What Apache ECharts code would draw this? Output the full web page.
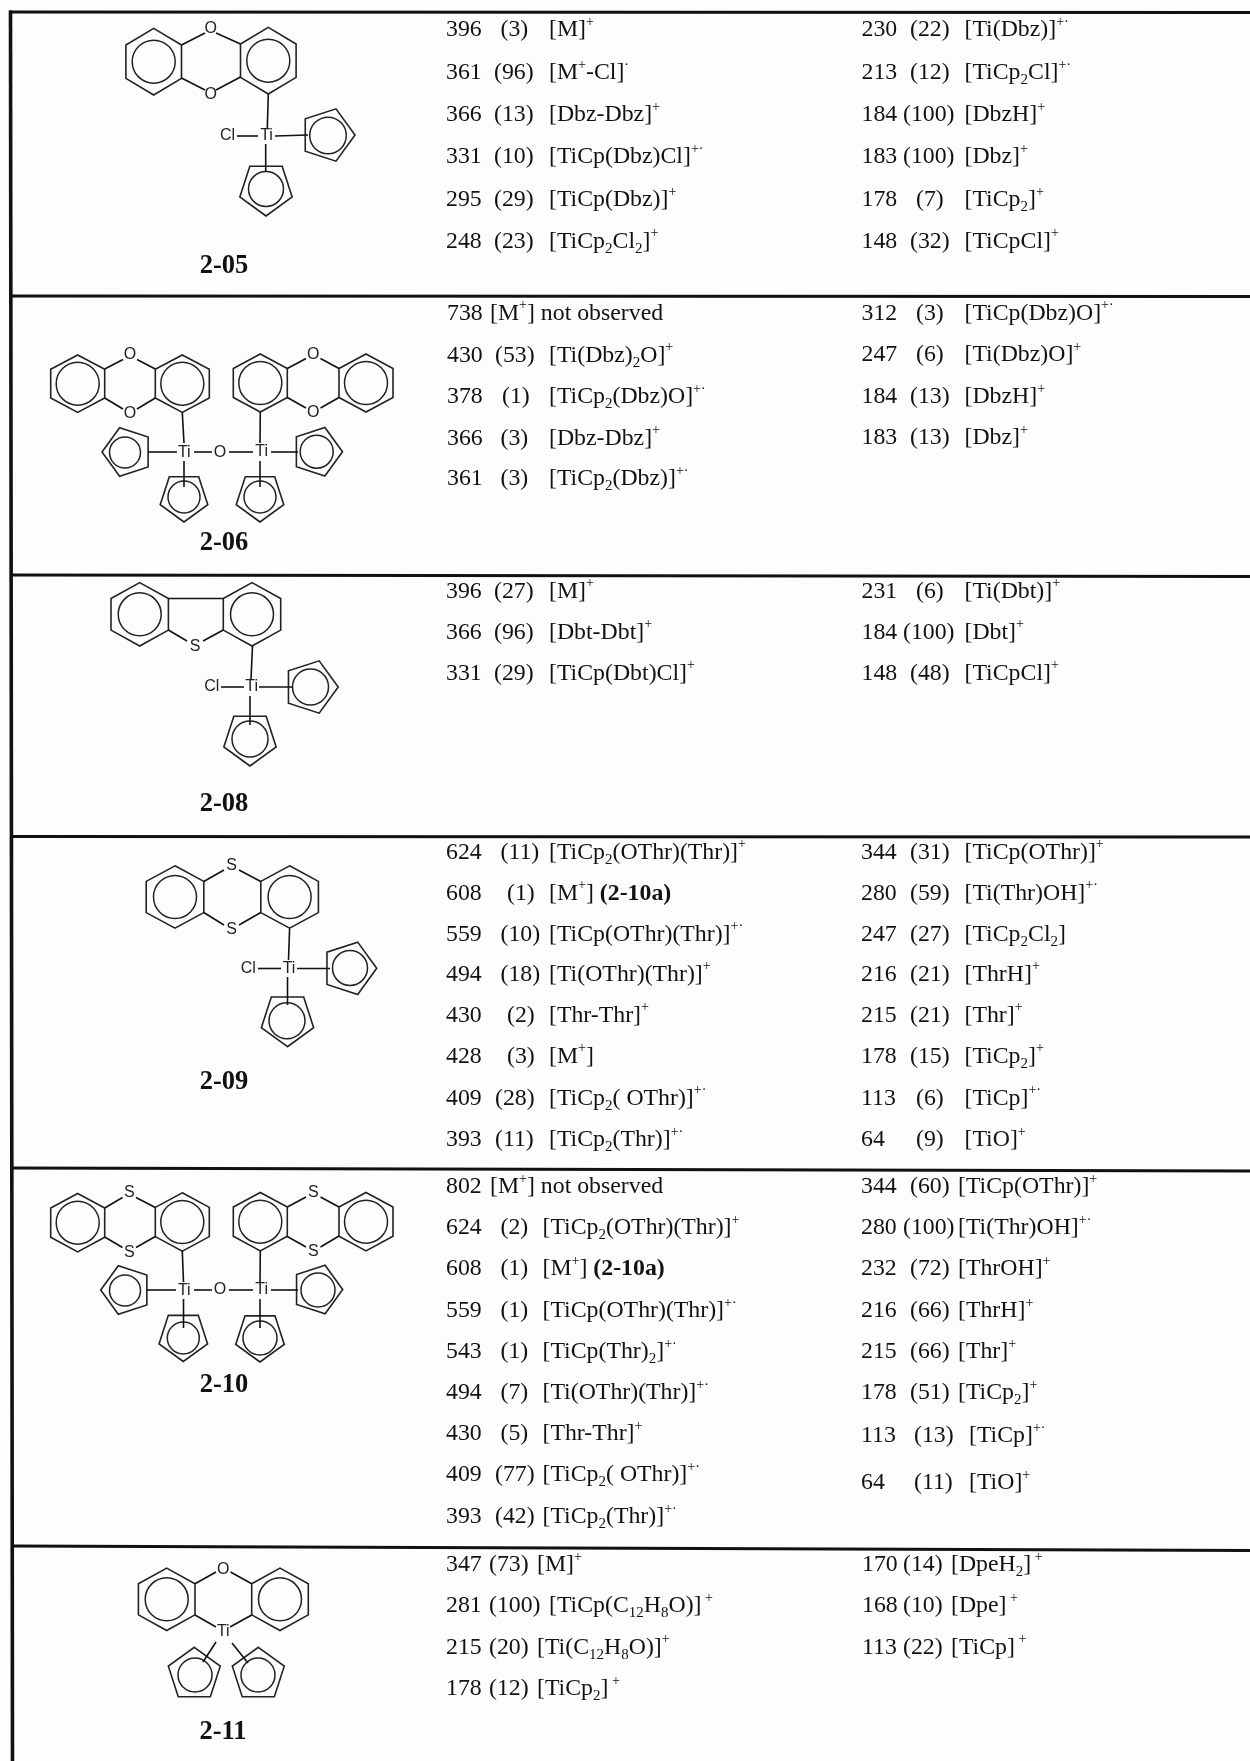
<!DOCTYPE html>
<html>
<head>
<meta charset="utf-8">
<script src="https://cdn.jsdelivr.net/npm/echarts@6/dist/echarts.min.js"></script>
<style>html,body{margin:0;padding:0;background:#fdfdfd}#main{width:1250px;height:1761px;filter:blur(0.45px)}</style>
</head>
<body>
<div id="main"></div>
<script>
// mass, (intensity), ion -- {u|..} is a superscript, {s|..} a subscript, {b|..} bold
var compounds = ['2-05', '2-06', '2-08', '2-09', '2-10', '2-11'];

var ions05a = [['396','(3)','[M]{u|+}'], ['361','(96)','[M{u|+}-Cl]{u|·}'], ['366','(13)','[Dbz-Dbz]{u|+}'], ['331','(10)','[TiCp(Dbz)Cl]{u|+·}'], ['295','(29)','[TiCp(Dbz)]{u|+}'], ['248','(23)','[TiCp{s|2}Cl{s|2}]{u|+}']];
var ions05b = [['230','(22)','[Ti(Dbz)]{u|+·}'], ['213','(12)','[TiCp{s|2}Cl]{u|+·}'], ['184','(100)','[DbzH]{u|+}'], ['183','(100)','[Dbz]{u|+}'], ['178','(7)','[TiCp{s|2}]{u|+}'], ['148','(32)','[TiCpCl]{u|+}']];
var ions06a = [['738','','[M{u|+}] not observed'], ['430','(53)','[Ti(Dbz){s|2}O]{u|+}'], ['378','(1)','[TiCp{s|2}(Dbz)O]{u|+·}'], ['366','(3)','[Dbz-Dbz]{u|+}'], ['361','(3)','[TiCp{s|2}(Dbz)]{u|+·}']];
var ions06b = [['312','(3)','[TiCp(Dbz)O]{u|+·}'], ['247','(6)','[Ti(Dbz)O]{u|+}'], ['184','(13)','[DbzH]{u|+}'], ['183','(13)','[Dbz]{u|+}']];
var ions08a = [['396','(27)','[M]{u|+}'], ['366','(96)','[Dbt-Dbt]{u|+}'], ['331','(29)','[TiCp(Dbt)Cl]{u|+}']];
var ions08b = [['231','(6)','[Ti(Dbt)]{u|+}'], ['184','(100)','[Dbt]{u|+}'], ['148','(48)','[TiCpCl]{u|+}']];
var ions09a = [['624','(11)','[TiCp{s|2}(OThr)(Thr)]{u|+}'], ['608','(1)','[M{u|+}] {b|(2-10a)}'], ['559','(10)','[TiCp(OThr)(Thr)]{u|+·}'], ['494','(18)','[Ti(OThr)(Thr)]{u|+}'], ['430','(2)','[Thr-Thr]{u|+}'], ['428','(3)','[M{u|+}]'], ['409','(28)','[TiCp{s|2}( OThr)]{u|+·}'], ['393','(11)','[TiCp{s|2}(Thr)]{u|+·}']];
var ions09b = [['344','(31)','[TiCp(OThr)]{u|+}'], ['280','(59)','[Ti(Thr)OH]{u|+·}'], ['247','(27)','[TiCp{s|2}Cl{s|2}]'], ['216','(21)','[ThrH]{u|+}'], ['215','(21)','[Thr]{u|+}'], ['178','(15)','[TiCp{s|2}]{u|+}'], ['113','(6)','[TiCp]{u|+·}'], ['64','(9)','[TiO]{u|+}']];
var ions10a = [['802','','[M{u|+}] not observed'], ['624','(2)','[TiCp{s|2}(OThr)(Thr)]{u|+}'], ['608','(1)','[M{u|+}] {b|(2-10a)}'], ['559','(1)','[TiCp(OThr)(Thr)]{u|+·}'], ['543','(1)','[TiCp(Thr){s|2}]{u|+·}'], ['494','(7)','[Ti(OThr)(Thr)]{u|+·}'], ['430','(5)','[Thr-Thr]{u|+}'], ['409','(77)','[TiCp{s|2}( OThr)]{u|+·}'], ['393','(42)','[TiCp{s|2}(Thr)]{u|+·}']];
var ions10b = [['344','(60)','[TiCp(OThr)]{u|+}'], ['280','(100)','[Ti(Thr)OH]{u|+·}'], ['232','(72)','[ThrOH]{u|+}'], ['216','(66)','[ThrH]{u|+}'], ['215','(66)','[Thr]{u|+}'], ['178','(51)','[TiCp{s|2}]{u|+}'], ['113','(13)','[TiCp]{u|+·}'], ['64','(11)','[TiO]{u|+}']];
var ions11a = [['347','(73)','[M]{u|+}'], ['281','(100)','[TiCp(C{s|12}H{s|8}O)]{u| +}'], ['215','(20)','[Ti(C{s|12}H{s|8}O)]{u|+}'], ['178','(12)','[TiCp{s|2}]{u| +}']];
var ions11b = [['170','(14)','[DpeH{s|2}]{u| +}'], ['168','(10)','[Dpe]{u| +}'], ['113','(22)','[TiCp]{u| +}']];

// ---- layout of the table, in page pixels (the hidden axes map them 1:1) ----
var columns = [
  {rows: ions05a, y: [30,73,115,157,200,241.5], num: 446, paren: [500.5,494,494,494,494,494], ion: 549},
  {rows: ions05b, y: [30,73,115,157,200,241.5], num: 861.5, paren: [910,910,903,903,916,910], ion: 964.5},
  {rows: ions06a, y: [313.5,355.5,397,438.5,479], num: 447, paren: [0,495,502,500.5,500.5], ion: [490,549,549,549,549]},
  {rows: ions06b, y: [313.5,355,397,438], num: 861.5, paren: [916,916,910,910], ion: 964.5},
  {rows: ions08a, y: [591.5,632.5,673.5], num: 446, paren: [494,494,494], ion: 549},
  {rows: ions08b, y: [591.5,632.5,673.5], num: 861.5, paren: [916,903,910], ion: 964.5},
  {rows: ions09a, y: [852.5,893.5,934.5,974.5,1015.5,1056.5,1098.5,1140], num: 446, paren: [500.5,507,500.5,500.5,507,507,495,495], ion: 549},
  {rows: ions09b, y: [852.5,893.5,934.5,974.5,1015.5,1056.5,1098.5,1140], num: 861, paren: [910,910,910,910,910,910,916,916], ion: 964.5},
  {rows: ions10a, y: [1187,1228,1269,1311,1352,1393,1434,1475,1517], num: 446, paren: [0,500.5,500.5,500.5,500.5,500.5,500.5,495,495], ion: [490,542.5,542.5,542.5,542.5,542.5,542.5,542.5,542.5]},
  {rows: ions10b, y: [1187,1228,1269,1311,1352,1393,1436,1483], num: 861, paren: [910,903,910,910,910,910,914,914], ion: [958,958,958,958,958,958,969,969]},
  {rows: ions11a, y: [1565,1606,1647.5,1689], num: 446, paren: 489, ion: [537,549,537,537]},
  {rows: ions11b, y: [1565,1606,1647.5], num: 862, paren: 903, ion: 951}
];

var rules = [[9,12,1250,12.5], [11,296,1250,296.5], [11,575,1250,576.5], [11,836.5,1250,837], [11,1168,1250,1171], [11,1546,1250,1550.5]];
var frame = [[10.5,10.5,12.5,1761]];

var labelPos = [[224,266], [224,543], [224,804], [224,1082], [224,1385], [223,1732]];

// hex: cx,cy,rx,ry  cp: cx,cy,r,rotation,circle cx,circle cy,circle r
var structures = [
  {hex: [[153.7,61.7,27.8,33.3],[268.3,60.7,27.8,33.3]],
   cp: [[327.5,135,27.5,0,328,135.5,18.3],[266,188.5,27.5,90,266,189,17.5]],
   bonds: [[181.5,45,205,33],[216,33,240.5,44],[181.5,78,205,90],[216,90,240.5,77],[268.3,94,267.3,128],[237,136,258,136],[275,136,308,135],[265.7,144,265.7,172]],
   atoms: [['O',210.7,28.5],['O',210.7,94.5],['Cl',227.5,136],['Ti',266.5,136]]},
  {hex: [[77.7,383.7,27,28.7],[182.3,383.7,27,28.7],[260.3,383,27,29],[366,383,27,29]],
   cp: [[127.5,452,25.5,180,125,452.5,15.5],[184,497,25,90,184,497,16],[317,451.7,25.5,0,316.7,451.7,16.5],[260,497,25,90,260,497,16]],
   bonds: [[104.7,369,123,359.5],[137,359.5,155.3,369],[104.7,398,123,409],[137,409,155.3,398],[287.3,368.5,306,358.5],[320.5,358.5,339,368.5],[287.3,397.5,306,408],[320.5,408,339,397.5],[182.3,412.5,184,443],[260.3,412,260,443],[148,452,177,452],[194,452,212,452],[229,452,253,452],[271,452,298,452],[184,461,184,487],[260,461,260,487]],
   atoms: [['O',130,355],['O',130,414],['O',313.3,354.3],['O',313.3,412.7],['Ti',184.3,452.3],['O',220,452.3],['Ti',261.7,451.7]]},
  {hex: [[139.7,614.3,28.7,31.7],[252,614.3,28.7,31.7]],
   cp: [[310.7,687,27.5,0,310.5,687,18],[250,738.5,27.5,90,250,739,18]],
   bonds: [[168.3,598.5,223.3,598.5],[168.3,630,187,641],[203,641,223.3,630],[252.5,646,251,679],[221,687,244,687],[259,687,293,687],[250,696,250,725]],
   atoms: [['S',195,646.7],['Cl',211.7,687],['Ti',251.7,687]]},
  {hex: [[175,897,28.8,31.2],[289.6,897,28.8,31.2]],
   cp: [[349.2,968.3,27.5,0,350,968,17.5],[287.5,1019.2,27.5,90,287,1020.8,18]],
   bonds: [[203.8,881.5,224,870],[239,870,260.8,881.5],[203.8,912.5,224,925],[239,925,260.8,912.5],[289.6,928.5,288.5,960],[258,968.5,281,968.5],[297,968.5,330,968.5],[287.5,977,287.5,1005]],
   atoms: [['S',231.7,866],['S',231.7,929.3],['Cl',248.3,969],['Ti',289,968.5]]},
  {hex: [[77.7,1222.7,27,29.2],[182.3,1222,27,29.2],[260.3,1221.7,27,29.2],[366,1221.7,27,29.2]],
   cp: [[126.2,1290,25.5,180,125,1290.5,15.5],[183.3,1336,25.5,90,183.3,1338,16],[317.2,1289.5,25.5,0,318,1290,17],[260,1336.5,25.5,90,260,1338,17]],
   bonds: [[104.7,1208,122.5,1197.5],[136,1197.5,155.3,1207.5],[104.7,1237,122.5,1247.5],[136,1247.5,155.3,1236.5],[287.3,1207,306,1197],[320.5,1197,339,1207],[287.3,1236.5,306,1247],[320.5,1247,339,1236],[182.3,1251,183.5,1282],[260.3,1251,260,1282],[147,1290,176,1290],[194,1290,212,1290],[229,1290,253,1290],[271,1290,298,1290],[183.5,1299,183.5,1328],[260,1299,260,1328]],
   atoms: [['S',129.3,1192.7],['S',129.3,1252.7],['S',313.3,1192.3],['S',313.3,1251.7],['Ti',184.3,1290.5],['O',220,1290],['Ti',261.7,1290]]},
  {hex: [[166.7,1599.3,28.3,31.2],[280,1599.3,28.3,31.2]],
   cp: [[194.3,1674.6,27.3,-90,195,1675,17],[258.3,1674.6,27.3,-90,258,1675,17]],
   bonds: [[195,1583.7,216,1572],[230.5,1572,251.7,1583.7],[195,1615,216,1627],[251.7,1615,230,1627],[216,1642,203,1662],[232,1643,248,1663]],
   atoms: [['O',223.3,1569.3],['Ti',223.3,1631.7]]}
];

// ---- everything below flattens the above into marks for one custom series ----
var INK = '#111';
var BODY = 'Liberation Serif';
var richStyles = {
  u: {fontFamily: BODY, fontSize: 14, lineHeight: 30, verticalAlign: 'top', fill: INK},
  s: {fontFamily: BODY, fontSize: 15, lineHeight: 30, verticalAlign: 'bottom', fill: INK},
  b: {fontFamily: BODY, fontSize: 23.8, lineHeight: 30, fontWeight: 'bold', verticalAlign: 'middle', fill: INK}
};
var marks = [];

function at(v, i) { return Array.isArray(v) ? v[i] : v; }

columns.forEach(function (col) {
  col.rows.forEach(function (row, i) {
    marks.push({kind: 'body', text: row[0], x: col.num, y: col.y[i]});
    if (row[1]) marks.push({kind: 'body', text: row[1], x: at(col.paren, i), y: col.y[i]});
    marks.push({kind: 'body', text: row[2], x: at(col.ion, i), y: col.y[i]});
  });
});
rules.forEach(function (r) { marks.push({kind: 'line', pts: r, w: 3.2}); });
frame.forEach(function (r) { marks.push({kind: 'line', pts: r, w: 3.6}); });
compounds.forEach(function (name, i) {
  marks.push({kind: 'label', text: name, x: labelPos[i][0], y: labelPos[i][1]});
});
structures.forEach(function (st) {
  st.hex.forEach(function (h) {
    var hh = h[3] / 2;
    marks.push({kind: 'poly', pts: [[h[0],h[1]-h[3]],[h[0]+h[2],h[1]-hh],[h[0]+h[2],h[1]+hh],[h[0],h[1]+h[3]],[h[0]-h[2],h[1]+hh],[h[0]-h[2],h[1]-hh]]});
    marks.push({kind: 'circle', x: h[0], y: h[1], r: 21.5});
  });
  st.cp.forEach(function (c) {
    var pts = [];
    for (var k = 0; k < 5; k++) {
      var a = (c[3] + 72 * k) * Math.PI / 180;
      pts.push([c[0] + c[2] * Math.cos(a), c[1] + c[2] * Math.sin(a)]);
    }
    marks.push({kind: 'poly', pts: pts});
    marks.push({kind: 'circle', x: c[4], y: c[5], r: c[6]});
  });
  st.bonds.forEach(function (b) { marks.push({kind: 'line', pts: b, w: 1.6}); });
  st.atoms.forEach(function (a) { marks.push({kind: 'atom', text: a[0], x: a[1], y: a[2]}); });
});

function renderMark(params, api) {
  var m = marks[api.value(0)];
  var s = api.size([1, 1]);
  if (m.kind === 'line') {
    var p = api.coord([m.pts[0], m.pts[1]]), q = api.coord([m.pts[2], m.pts[3]]);
    return {type: 'line', shape: {x1: p[0], y1: p[1], x2: q[0], y2: q[1]}, style: {stroke: INK, lineWidth: m.w}};
  }
  if (m.kind === 'poly') {
    return {type: 'polygon', shape: {points: m.pts.map(function (d) { return api.coord(d); })}, style: {fill: 'none', stroke: '#222', lineWidth: 1.6}};
  }
  if (m.kind === 'circle') {
    var c = api.coord([m.x, m.y]);
    return {type: 'circle', shape: {cx: c[0], cy: c[1], r: m.r * s[0]}, style: {fill: 'none', stroke: '#222', lineWidth: 1.5}};
  }
  var t = api.coord([m.x, m.y]);
  if (m.kind === 'atom') {
    return {type: 'text', x: t[0], y: t[1], style: {text: m.text, fontFamily: 'Liberation Sans', fontSize: 16, fill: '#222', align: 'center', verticalAlign: 'middle'}};
  }
  if (m.kind === 'label') {
    return {type: 'text', x: t[0], y: t[1], style: {text: m.text, fontFamily: BODY, fontSize: 26.5, fontWeight: 'bold', fill: INK, align: 'center', verticalAlign: 'middle'}};
  }
  return {type: 'text', x: t[0], y: t[1], style: {text: m.text, fontFamily: BODY, fontSize: 23.8, lineHeight: 30, fill: INK, align: 'left', verticalAlign: 'middle', rich: richStyles}};
}

var myChart = echarts.init(document.getElementById('main'));
var option = {
  animation: false,
  backgroundColor: '#fdfdfd',
  grid: {left: 0, right: 0, top: 0, bottom: 0},
  xAxis: {type: 'value', min: 0, max: 1250, show: false},
  yAxis: {type: 'value', min: 0, max: 1761, inverse: true, show: false},
  series: [{
    type: 'custom',
    coordinateSystem: 'cartesian2d',
    clip: false,
    silent: true,
    renderItem: renderMark,
    data: marks.map(function (m, i) { return [i]; }),
    encode: {x: [], y: []}
  }]
};
myChart.setOption(option);
</script>
</body>
</html>
